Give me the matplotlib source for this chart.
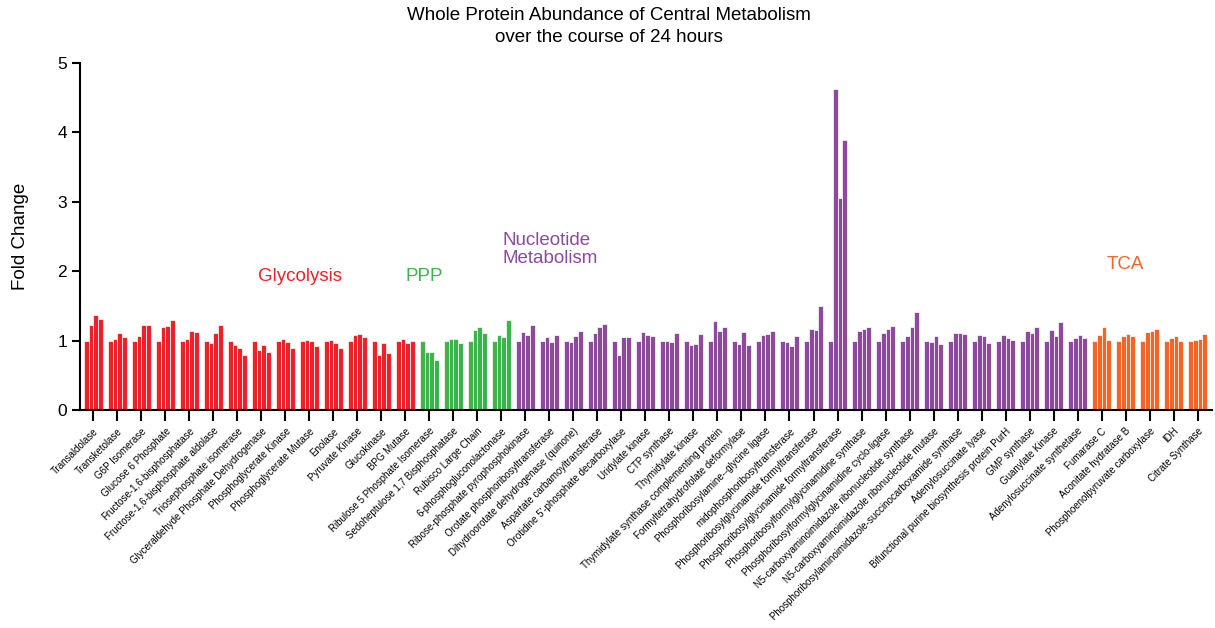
import numpy as np
import matplotlib
matplotlib.use("Agg")
import matplotlib.pyplot as plt

plt.rcParams['font.family'] = ['Liberation Sans', 'DejaVu Sans']

# fold change at the four sampling points, one row per protein
glycolysis_names = [
    "Transaldolase", "Transketolase", "G6P Isomerase", "Glucose 6 Phosphate",
    "Fructose-1,6-bisphosphatase", "Fructose-1,6-bisphosphate aldolase",
    "Triosephosphate isomerase", "Glyceraldehyde Phosphate Dehydrogenase",
    "Phosphoglycerate Kinase", "Phosphoglycerate Mutase", "Enolase",
    "Pyruvate Kinase", "Glucokinase", "BPG Mutase",
]
glycolysis_fc = [
    [1.0, 1.23, 1.37, 1.31],
    [1.0, 1.03, 1.115, 1.05],
    [1.0, 1.07, 1.226, 1.23],
    [1.0, 1.19, 1.21, 1.29],
    [1.0, 1.02, 1.145, 1.13],
    [1.0, 0.97, 1.115, 1.226],
    [1.0, 0.94, 0.90, 0.79],
    [1.0, 0.86, 0.94, 0.83],
    [1.0, 1.03, 0.985, 0.89],
    [1.0, 1.015, 1.0, 0.92],
    [1.0, 1.015, 0.96, 0.90],
    [1.0, 1.08, 1.095, 1.05],
    [1.0, 0.80, 0.97, 0.82],
    [1.0, 1.02, 0.97, 1.0],
]

ppp_names = [
    "Ribulose 5 Phosphate Isomerase", "Sedoheptulose 1,7 Bisphosphatase",
    "Rubisco Large Chain", "6-phosphogluconolactonase",
]
ppp_fc = [
    [1.0, 0.83, 0.83, 0.72],
    [1.0, 1.03, 1.03, 0.97],
    [1.0, 1.16, 1.19, 1.115],
    [1.0, 1.077, 1.05, 1.30],
]

nucleotide_names = [
    "Ribose-phosphate pyrophosphokinase",
    "Orotate phosphoribosyltransferase",
    "Dihydroorotate dehydrogenase (quinone)",
    "Aspartate carbamoyltransferase",
    "Orotidine 5'-phosphate decarboxylase",
    "Uridylate kinase", "CTP synthase", "Thymidylate kinase",
    "Thymidylate synthase complementing protein",
    "Formyltetrahydrofolate deformylase",
    "Phosphoribosylamine--glycine ligase",
    "midophosphoribosyltransferase",
    "Phosphoribosylglycinamide formyltransferase",
    "Phosphoribosylglycinamide formyltransferase",
    "Phosphoribosylformylglycinamidine synthase",
    "Phosphoribosylformylglycinamidine cyclo-ligase",
    "N5-carboxyaminoimidazole ribonucleotide synthase",
    "N5-carboxyaminoimidazole ribonucleotide mutase",
    "Phosphoribosylaminoimidazole-succinocarboxamide synthase",
    "Adenylosuccinate lyase",
    "Bifunctional purine biosynthesis protein PurH",
    "GMP synthase", "Guanylate Kinase", "Adenylosuccinate synthetase",
]
nucleotide_fc = [
    [1.0, 1.13, 1.08, 1.226],
    [1.0, 1.05, 0.985, 1.08],
    [1.0, 0.985, 1.07, 1.145],
    [1.0, 1.115, 1.19, 1.24],
    [1.0, 0.79, 1.05, 1.05],
    [1.0, 1.125, 1.077, 1.06],
    [1.0, 1.0, 0.98, 1.11],
    [1.0, 0.93, 0.95, 1.096],
    [1.0, 1.28, 1.14, 1.20],
    [1.0, 0.95, 1.13, 0.93],
    [1.0, 1.077, 1.096, 1.14],
    [1.0, 0.98, 0.92, 1.06],
    [1.0, 1.17, 1.16, 1.50],
    [1.0, 4.62, 3.05, 3.89],
    [1.0, 1.14, 1.17, 1.19],
    [1.0, 1.11, 1.17, 1.21],
    [1.0, 1.06, 1.19, 1.41],
    [1.0, 0.98, 1.06, 0.95],
    [1.0, 1.11, 1.11, 1.09],
    [1.0, 1.077, 1.06, 0.97],
    [1.0, 1.077, 1.04, 1.015],
    [1.0, 1.14, 1.11, 1.19],
    [1.0, 1.15, 1.06, 1.27],
    [1.0, 1.04, 1.077, 1.04],
]

tca_names = [
    "Fumarase C", "Aconitate hydratase B", "Phosphoenolpyruvate carboxylase",
    "IDH", "Citrate Synthase",
]
tca_fc = [
    [1.0, 1.077, 1.19, 1.015],
    [1.0, 1.06, 1.10, 1.06],
    [1.0, 1.125, 1.14, 1.17],
    [1.0, 1.04, 1.06, 1.0],
    [1.0, 1.015, 1.03, 1.09],
]

pathways = [
    ("Glycolysis", glycolysis_names, glycolysis_fc, "#ED2127"),
    ("PPP", ppp_names, ppp_fc, "#3BB44A"),
    ("Nucleotide\nMetabolism", nucleotide_names, nucleotide_fc, "#8C4A9D"),
    ("TCA", tca_names, tca_fc, "#F26524"),
]

fig = plt.figure(figsize=(12.15, 6.28), dpi=100)
ax = fig.add_axes([0.066, 0.347, 0.9315, 0.553])

bw = 0.2
all_names = []
start = 0
for title, names, fc, col in pathways:
    fc = np.array(fc)
    idx = np.arange(start, start + len(names))
    for j in range(fc.shape[1]):
        ax.bar(idx + (j - 1.5) * bw, fc[:, j], width=bw, color=col,
               edgecolor="white", linewidth=0.5)
    all_names += names
    start += len(names)

# pathway captions
ax.text(8.6, 1.92, "Glycolysis", color="#ED2127", fontsize=13.5, ha="center", va="center")
ax.text(13.8, 1.92, "PPP", color="#3BB44A", fontsize=13.5, ha="center", va="center")
ax.text(17.05, 2.31, "Nucleotide\nMetabolism", color="#8C4A9D", fontsize=13.5,
        ha="left", va="center", linespacing=1.1)
ax.text(43.0, 2.09, "TCA", color="#F26524", fontsize=13.5, ha="center", va="center")

ax.set_xlim(-0.55, len(all_names) - 0.4)
ax.set_ylim(0, 5)
ax.set_xticks(np.arange(len(all_names)))
ax.set_xticklabels(all_names, rotation=45, ha="right", rotation_mode="anchor",
                   fontsize=7)
ax.set_yticks(range(6))
ax.tick_params(axis="y", labelsize=12.5, width=1.5, length=6)
ax.tick_params(axis="x", width=1.5, length=8)
ax.spines["top"].set_visible(False)
ax.spines["right"].set_visible(False)
ax.spines["left"].set_linewidth(1.5)
ax.spines["bottom"].set_linewidth(1.5)
ax.set_ylabel("Fold Change", fontsize=13.5)
ax.yaxis.set_label_coords(-0.045, 0.5)

fig.text(0.501, 0.958, "Whole Protein Abundance of Central Metabolism\nover the course of 24 hours",
         ha="center", va="center", fontsize=13.5, linespacing=1.35)

fig.savefig("out.png", dpi=100)
